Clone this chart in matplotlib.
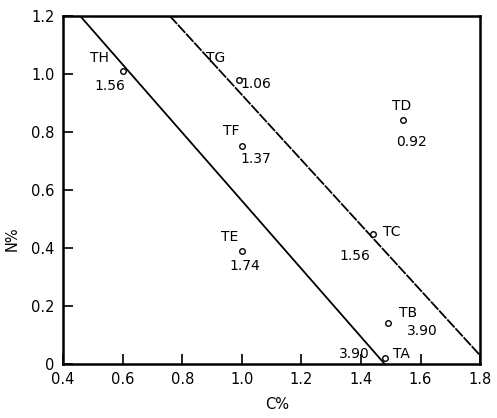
import numpy as np
import matplotlib.pyplot as plt

plt.rcParams['font.family'] = ['DejaVu Sans']

# 样品点 (C%, N%)
names = ['TA', 'TB', 'TC', 'TD', 'TE', 'TF', 'TG', 'TH']
c_pct = [1.48, 1.49, 1.44, 1.54, 1.00, 1.00, 0.99, 0.60]
n_pct = [0.02, 0.14, 0.45, 0.84, 0.39, 0.75, 0.98, 1.01]
values = ['3.90', '3.90', '1.56', '0.92', '1.74', '1.37', '1.06', '1.56']

# 两条边界线的端点
line1_x = [0.457, 1.48]
line1_y = [1.2, 0.0]
line2_x = [0.758, 1.80]
line2_y = [1.2, 0.03]

# 标注偏移（像素）：名称, 数值
name_off = {'TA': (17, 4), 'TB': (20, 10), 'TC': (19, 2), 'TD': (-1, 14),
            'TE': (-12, 14), 'TF': (-11, 15), 'TG': (-23, 22), 'TH': (-23, 13)}
val_off = {'TA': (-30, 4), 'TB': (35, -8), 'TC': (-18, -22), 'TD': (9, -22),
           'TE': (3, -15), 'TF': (14, -13), 'TG': (17, -4), 'TH': (-13, -15)}

fig = plt.figure(figsize=(4.97, 4.18), dpi=100)
ax = fig.add_axes([0.127, 0.129, 0.839, 0.833])

ax.plot(line1_x, line1_y, color='black', lw=1.3)
ax.plot(line2_x, line2_y, color='black', lw=1.3, dashes=(6, 0.7))
ax.plot(c_pct, n_pct, 'o', ms=4, mfc='white', mec='black', mew=1.0, zorder=3)

for nm, x, y, v in zip(names, c_pct, n_pct, values):
    ax.annotate(nm, (x, y), xytext=name_off[nm], textcoords='offset pixels',
                ha='center', va='center', fontsize=10)
    ax.annotate(v, (x, y), xytext=val_off[nm], textcoords='offset pixels',
                ha='center', va='center', fontsize=10)

ax.set_xlim(0.4, 1.8)
ax.set_ylim(0, 1.2)
ax.set_xticks([0.4, 0.6, 0.8, 1.0, 1.2, 1.4, 1.6, 1.8])
ax.set_xticklabels(['0.4', '0.6', '0.8', '1.0', '1.2', '1.4', '1.6', '1.8'])
ax.set_yticks([0, 0.2, 0.4, 0.6, 0.8, 1.0, 1.2])
ax.set_yticklabels(['0', '0.2', '0.4', '0.6', '0.8', '1.0', '1.2'])
ax.tick_params(direction='in', length=7, width=1.2, labelsize=10.5, pad=6)
for s in ax.spines.values():
    s.set_linewidth(1.8)

fig.text(0.557, 0.015, 'C%', ha='center', va='bottom', fontsize=10.5)
fig.text(0.025, 0.43, 'N%', ha='center', va='center', rotation=90, fontsize=10.5)

fig.savefig('out.png', dpi=100)
